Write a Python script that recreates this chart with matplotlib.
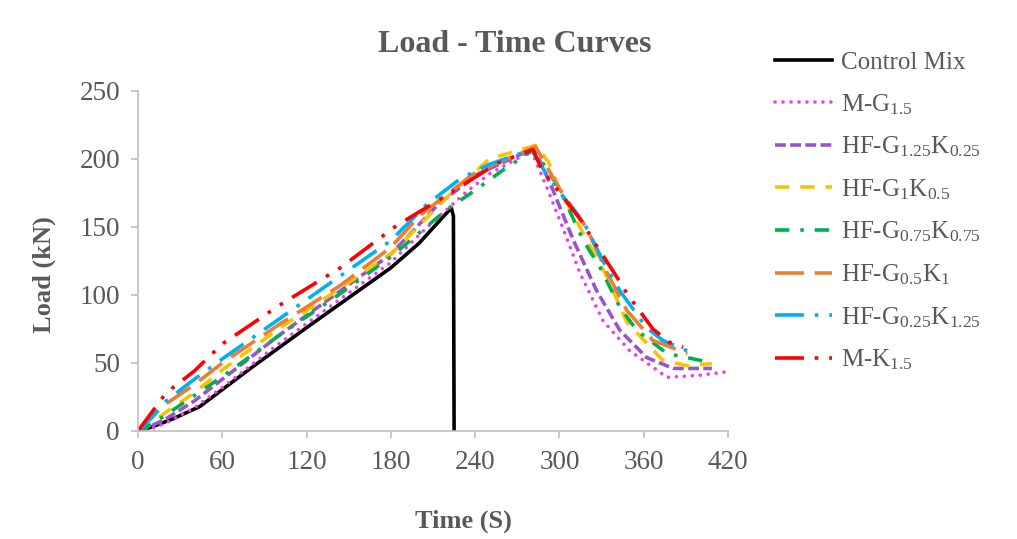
#! /usr/bin/env python3

import matplotlib
matplotlib.use('Agg')
import matplotlib.pyplot as plt

plt.rcParams['font.family'] = ['Liberation Serif', 'DejaVu Serif']
plt.rcParams['mathtext.fontset'] = 'custom'
plt.rcParams['mathtext.rm'] = 'Liberation Serif'
plt.rcParams['mathtext.it'] = 'Liberation Serif:italic'
plt.rcParams['mathtext.bf'] = 'Liberation Serif:bold'

# time (s) / load (kN)
control_t = [0, 10, 25, 44, 80, 120, 150, 180, 200, 215, 223, 224.5, 225]
control_l = [0, 3, 9, 18, 46, 76, 98, 120, 138, 155, 164, 158, 0]

mg_t = [0, 10, 20, 40, 60, 100, 144, 180, 208, 234, 250, 280, 291, 302.5,
        314.6, 331, 350, 376.5, 400, 419]
mg_l = [0, 2, 6, 17, 32, 64, 97, 124, 152, 176, 189, 206, 179, 149,
        116, 81, 59, 39.5, 41, 43.5]

g125_t = [0, 10, 20, 40, 60, 100, 144, 180, 214, 242, 282, 295, 310,
          326.5, 343, 362, 381, 408.5]
g125_l = [0, 4, 9, 22, 38, 70, 103, 130, 167, 189, 208, 178, 140,
          103, 74, 54, 46, 46]

g1_t = [0, 10, 20, 40, 60, 100, 144, 180, 220, 250, 283, 292, 300, 316,
        334, 348, 373.5, 391, 408.5]
g1_l = [0, 6, 14, 28, 45, 75, 105, 130, 172, 200, 210, 198, 178, 147,
        113, 80, 52, 48, 49.5]

g075_t = [0, 10, 20, 40, 60, 100, 144, 180, 220, 240, 260, 282, 300, 317,
          329, 343, 355, 376.5, 400, 408.5]
g075_l = [0, 5, 12, 26, 40, 70, 101, 128, 163, 177, 192, 207, 178, 140,
          120, 91, 74, 57, 52, 49]

g05_t = [0, 10, 20, 40, 60, 100, 144, 180, 200, 240, 283, 300, 319.5,
         334, 348, 366.5, 391]
g05_l = [0, 11, 20, 34, 50, 78, 107, 135, 158, 190, 209, 178, 149,
         116, 88.6, 66.6, 57]

g025_t = [0, 10, 20, 40, 60, 100, 144, 180, 205, 230, 250, 280, 290, 304,
          317, 331, 343, 362, 373.5, 393]
g025_l = [0, 10, 22, 38, 53, 82, 114, 140, 166, 186, 196, 207, 190, 170.5,
          154, 125, 103, 76, 66.6, 58]

mk_t = [0, 10, 20, 40, 60, 100, 144, 184, 216, 256, 281, 288, 298, 316,
        324, 341, 348, 366.5, 378.6, 388]
mk_l = [0, 14, 28, 44, 64, 92, 120, 151, 171, 197, 207, 191, 178, 154,
        140, 113, 101, 75, 65, 61.5]

x_ticks = [0, 60, 120, 180, 240, 300, 360, 420]
y_ticks = [0, 50, 100, 150, 200, 250]

grey = '#595959'
fig = plt.figure(figsize=(10.17, 5.39), dpi=100)
ax = fig.add_axes([0.1357, 0.2004, 0.5802, 0.6308])

lw = 2.6
series = [
    (control_t, control_l, 'Control Mix', '#000000', '-'),
    (mg_t, mg_l, r'M-G$_{1.5}$', '#F03CF0', (0, (0.01, 2.2))),
    (g125_t, g125_l, r'HF-G$_{1.25}$K$_{0.25}$', '#9954CC', (0, (3, 1.2))),
    (g1_t, g1_l, r'HF-G$_{1}$K$_{0.5}$', '#FFC000', (0, (4, 3))),
    (g075_t, g075_l, r'HF-G$_{0.75}$K$_{0.75}$', '#00B050', (0, (4, 3, 1, 3))),
    (g05_t, g05_l, r'HF-G$_{0.5}$K$_{1}$', '#ED7D31', (0, (8, 3))),
    (g025_t, g025_l, r'HF-G$_{0.25}$K$_{1.25}$', '#00B0F0', (0, (8, 3, 1, 3))),
    (mk_t, mk_l, r'M-K$_{1.5}$', '#FF0000', (0, (8, 3, 1, 3, 1, 3))),
]
for t, l, name, col, ls in series:
    line, = ax.plot(t, l, color=col, lw=lw, linestyle=ls, label=name)
    if name.startswith('M-G'):
        line.set_dash_capstyle('round')

ax.set_xlim(0, 420)
ax.set_ylim(0, 250)
ax.set_xticks(x_ticks)
ax.set_yticks(y_ticks)
for s in ['top', 'right']:
    ax.spines[s].set_visible(False)
for s in ['left', 'bottom']:
    ax.spines[s].set_color('#BFBFBF')
    ax.spines[s].set_linewidth(1.2)
ax.tick_params(colors='#BFBFBF', labelcolor=grey, labelsize=19.5,
               length=5, width=1.2, direction='out')
ax.tick_params(axis='y', pad=8)
ax.tick_params(axis='x', pad=9)

fig.text(515 / 1017, 1 - 45 / 539, 'Load - Time Curves', ha='center',
         va='center', fontsize=23, fontweight='bold', color=grey)
fig.text(44 / 1017, 1 - 275 / 539, 'Load (kN)', ha='center', va='center',
         rotation=90, fontsize=19, fontweight='bold', color=grey)
fig.text(463 / 1017, 1 - 521 / 539, 'Time (S)', ha='center', va='center',
         fontsize=19, fontweight='bold', color=grey)

leg = fig.legend(loc='upper left', bbox_to_anchor=(752 / 1017, 1 - 29 / 539),
                 frameon=False, fontsize=18, handlelength=2.3,
                 handletextpad=0.35, labelspacing=0.72)
for txt in leg.get_texts():
    txt.set_color(grey)

fig.savefig('out.png', dpi=100)
